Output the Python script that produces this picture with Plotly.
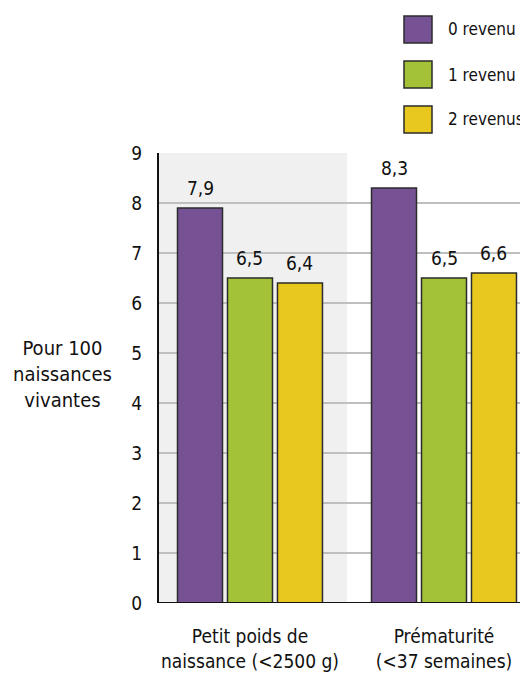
import plotly.graph_objects as go

# données
categories = ["Petit poids de<br>naissance (&lt;2500 g)", "Prématurité<br>(&lt;37 semaines)"]
series_names = ["0 revenu", "1 revenu", "2 revenus"]
val_0 = [7.9, 8.3]
val_1 = [6.5, 6.5]
val_2 = [6.4, 6.6]
y_ticks = [0, 1, 2, 3, 4, 5, 6, 7, 8, 9]

colors = ["#765294", "#a3c238", "#e8c81f"]
FONT = "DejaVu Sans Condensed, Liberation Sans Narrow, sans-serif"
FS = 19

# la page ajoute une marge de 8 px : on travaille en coordonnées écran
OFF = 8
W, H = 528 - OFF, 673 - OFF
ML, MR, MT, MB = 159 - OFF, 0, 153 - OFF, 673 - 603
PW, PH = W - ML - MR, H - MT - MB

def px_x(p):
    return (p - OFF - ML) / PW

def px_y(p):
    return (H + OFF - MB - p) / PH

fig = go.Figure()
xs = list(range(len(categories)))
for name, vals, col in zip(series_names, [val_0, val_1, val_2], colors):
    fig.add_trace(go.Bar(
        x=xs, y=vals, name=name,
        marker=dict(color=col, line=dict(color="#2b2b2b", width=1.5)),
        showlegend=False,
    ))

# étiquettes de valeur au-dessus des barres
slot = (1 - 0.227) / 3
for i, vals in enumerate([val_0, val_1, val_2]):
    for c, v in zip(xs, vals):
        fig.add_annotation(
            x=c + (i - 1) * slot, y=v, text=f"{v:.1f}".replace(".", ","),
            showarrow=False, yshift=20, font=dict(size=FS, color="#111"),
        )

# bande grise derrière la première catégorie
fig.add_shape(type="rect", xref="x", yref="y", x0=-0.6, x1=0.5, y0=0, y1=9,
              fillcolor="#f0f0f0", line_width=0, layer="below")

# légende manuelle
for i, (name, col) in enumerate(zip(series_names, colors)):
    cy = 29.5 + i * 45
    fig.add_shape(type="rect", xref="paper", yref="paper",
                  x0=px_x(404), x1=px_x(432), y0=px_y(cy + 13.5), y1=px_y(cy - 13.5),
                  fillcolor=col, line=dict(color="#2b2b2b", width=1.5))
    fig.add_annotation(xref="paper", yref="paper", x=px_x(446), y=px_y(cy),
                       text=name, showarrow=False, xanchor="left", yanchor="middle",
                       font=dict(size=17, color="#111"))

# titre de l'axe y
fig.add_annotation(xref="paper", yref="paper", x=px_x(62), y=px_y(374),
                   text="Pour 100<br>naissances<br>vivantes", showarrow=False,
                   xanchor="center", yanchor="middle", align="center",
                   font=dict(size=20, color="#111"))

fig.update_layout(
    width=W, height=H,
    margin=dict(l=ML, r=MR, t=MT, b=MB, pad=0),
    paper_bgcolor="white", plot_bgcolor="white",
    barmode="group", bargap=0.227, bargroupgap=0.1,
    font=dict(family=FONT, size=FS, color="#111"),
    xaxis=dict(range=[-0.469, 1.433], tickvals=xs, ticktext=categories,
               showgrid=False, zeroline=False, showline=False,
               ticks="", ticklabelstandoff=20),
    yaxis=dict(range=[0, 9], tickvals=y_ticks, showgrid=True,
               gridcolor="#bfbfbf", gridwidth=1.5, zeroline=False,
               showline=True, linecolor="#111", linewidth=2, mirror=False,
               ticks="", ticklabelstandoff=11),
)
# ligne de base
fig.add_shape(type="line", xref="paper", yref="y", x0=0, x1=1, y0=0, y1=0,
              line=dict(color="#111", width=2))

fig.write_html("out.html")
